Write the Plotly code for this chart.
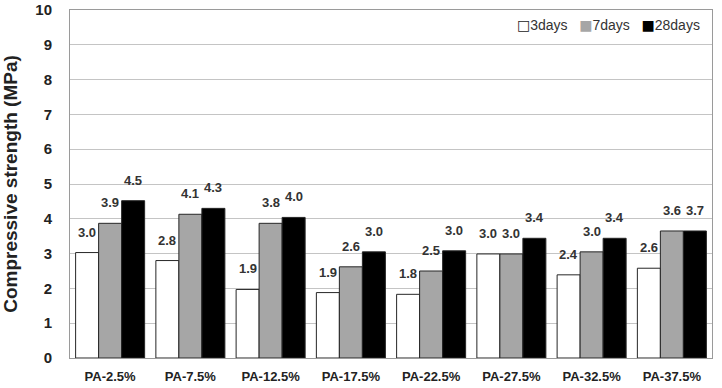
import plotly.graph_objects as go

categories = ["PA-2.5%", "PA-7.5%", "PA-12.5%", "PA-17.5%", "PA-22.5%", "PA-27.5%", "PA-32.5%", "PA-37.5%"]
series_names = ["3days", "7days", "28days"]
values_3d = [3.03, 2.80, 1.97, 1.88, 1.83, 2.99, 2.39, 2.58]
values_7d = [3.87, 4.13, 3.87, 2.62, 2.50, 2.99, 3.05, 3.65]
values_28d = [4.52, 4.30, 4.04, 3.05, 3.08, 3.44, 3.44, 3.65]
labels_3d = ["3.0", "2.8", "1.9", "1.9", "1.8", "3.0", "2.4", "2.6"]
labels_7d = ["3.9", "4.1", "3.8", "2.6", "2.5", "3.0", "3.0", "3.6"]
labels_28d = ["4.5", "4.3", "4.0", "3.0", "3.0", "3.4", "3.4", "3.7"]
y_ticks = [0, 1, 2, 3, 4, 5, 6, 7, 8, 9, 10]

FONT = "Liberation Sans"
fills = ["#ffffff", "#a6a6a6", "#000000"]
all_values = [values_3d, values_7d, values_28d]
all_labels = [labels_3d, labels_7d, labels_28d]

fig = go.Figure()
for name, vals, col in zip(series_names, all_values, fills):
    fig.add_trace(go.Bar(
        x=categories, y=vals, name=name, showlegend=False,
        marker=dict(color=col, line=dict(color="#262626", width=1)),
    ))

shifts = [-23, 0, 23]
for vals, labs, sh in zip(all_values, all_labels, shifts):
    for c, v, t in zip(categories, vals, labs):
        fig.add_annotation(
            x=c, y=v, text=t, showarrow=False, xshift=sh, yshift=11,
            yanchor="bottom", xanchor="center",
            font=dict(family=FONT, size=13, color="#333333", weight="bold"),
        )

# legend (swatch glyphs + series names)
swatch_colors = ["#ffffff", "#a6a6a6", "#000000"]
parts = []
for name, sc in zip(series_names, swatch_colors):
    if sc == "#ffffff":
        glyph = '<span style="font-family:DejaVu Sans;color:#222222">□</span>'
    else:
        glyph = '<span style="font-family:DejaVu Sans;color:%s">■</span>' % sc
    parts.append(glyph + name)
legend_text = "   ".join(parts)
fig.add_annotation(
    xref="paper", yref="paper", x=0.985, y=0.985, xanchor="right", yanchor="top",
    text=legend_text, showarrow=False,
    font=dict(family=FONT, size=14, color="#333333"),
)

fig.update_layout(
    width=722, height=388,
    margin=dict(l=70, r=10, t=10, b=30),
    paper_bgcolor="white", plot_bgcolor="white",
    barmode="group", bargap=0.14, bargroupgap=0,
    font=dict(family=FONT, color="#333333"),
    showlegend=False,
    xaxis=dict(
        automargin=False,
        showline=True, linecolor="#9a9a9a", linewidth=1, mirror=True,
        ticks="", ticklabelstandoff=6,
        tickfont=dict(family=FONT, size=13, color="#222222", weight="bold"),
    ),
    yaxis=dict(
        automargin=False,
        range=[0, 10], tickvals=y_ticks,
        showline=True, linecolor="#9a9a9a", linewidth=1, mirror=True,
        showgrid=True, gridcolor="#c4c4c4", gridwidth=1,
        ticks="", ticklabelstandoff=14,
        tickfont=dict(family=FONT, size=15, color="#222222", weight="bold"),
        title=dict(text="Compressive strength (MPa)", standoff=13,
                   font=dict(family=FONT, size=19, color="#222222", weight="bold")),
        zeroline=False,
    ),
)

fig.write_html("out.html")
